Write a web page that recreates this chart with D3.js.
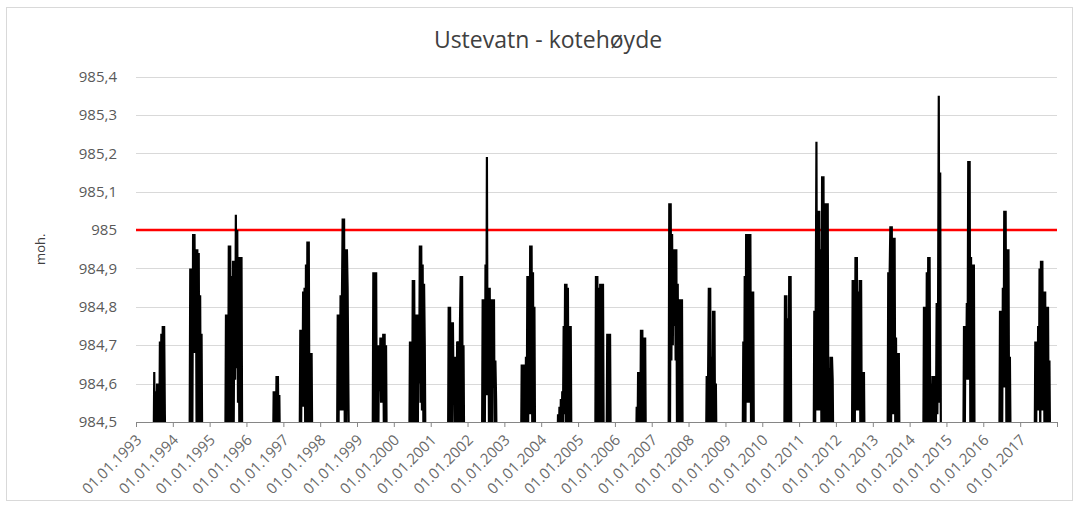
<!DOCTYPE html>
<html>
<head>
<meta charset="utf-8">
<script src="https://cdn.jsdelivr.net/npm/d3@7"></script>
<style>
  body { margin: 0; background: #fff; }
  text { font-family: "Open Sans", sans-serif; }
</style>
</head>
<body>
<svg id="chart" width="1079" height="508"></svg>
<script>
// axis range and tick values
const axisStart = "1993-01-01"
const axisEnd = "2018-01-01"
const levelTicks = [984.5, 984.6, 984.7, 984.8, 984.9, 985.0, 985.1, 985.2, 985.3, 985.4]
const thresholdLevel = 985
const stepDays = 7

// first date of each summer season (weekly readings after it)
const seasonStarts = [
    "1993-06-24", "1994-06-16", "1995-06-05", "1996-09-20", "1997-06-11",
    "1998-06-17", "1999-06-05", "2000-06-02", "2001-06-21", "2002-05-24",
    "2003-06-15", "2004-06-09", "2005-06-20", "2006-07-29", "2007-06-17",
    "2008-06-22", "2009-06-20", "2010-08-07", "2011-05-25", "2012-06-08",
    "2013-05-27", "2014-05-16", "2015-06-17", "2016-06-08", "2017-05-24"
]

// water level (moh.)
const seasonLevels = [
    [984.40, 984.63, 984.42, 984.58, 984.43, 984.60, 984.44, 984.60, 984.42, 984.71, 984.45, 984.73, 984.44, 984.75, 984.43, 984.75, 984.52, 984.40],
    [984.40, 984.90, 984.42, 984.90, 984.50, 984.99, 984.68, 984.99, 984.68, 984.95, 984.45, 984.95, 984.43, 984.94, 984.44, 984.83, 984.42, 984.73, 984.40],
    [984.40, 984.78, 984.42, 984.78, 984.45, 984.96, 984.48, 984.96, 984.44, 984.88, 984.42, 984.92, 984.50, 984.92, 984.61, 985.04, 984.64, 985.00, 984.55, 984.93, 984.44, 984.93, 984.42, 984.93, 984.40],
    [984.40, 984.58, 984.42, 984.58, 984.45, 984.62, 984.43, 984.62, 984.45, 984.57, 984.40],
    [984.40, 984.74, 984.42, 984.74, 984.54, 984.84, 984.54, 984.85, 984.45, 984.91, 984.43, 984.97, 984.44, 984.97, 984.42, 984.68, 984.42, 984.68, 984.40],
    [984.40, 984.78, 984.42, 984.78, 984.53, 984.83, 984.53, 984.83, 985.03, 984.53, 985.03, 984.45, 984.95, 984.42, 984.95, 984.85, 984.60, 984.40],
    [984.40, 984.89, 984.42, 984.89, 984.45, 984.89, 984.43, 984.70, 984.44, 984.70, 984.58, 984.72, 984.55, 984.72, 984.55, 984.73, 984.45, 984.73, 984.42, 984.70, 984.40],
    [984.40, 984.71, 984.42, 984.71, 984.45, 984.87, 984.43, 984.87, 984.50, 984.78, 984.45, 984.78, 984.42, 984.78, 984.60, 984.96, 984.55, 984.96, 984.53, 984.91, 984.50, 984.86, 984.70, 984.40],
    [984.40, 984.80, 984.42, 984.80, 984.45, 984.76, 984.43, 984.76, 984.55, 984.67, 984.42, 984.67, 984.45, 984.71, 984.50, 984.71, 984.45, 984.76, 984.88, 984.42, 984.88, 984.45, 984.70, 984.40],
    [984.40, 984.82, 984.42, 984.82, 984.45, 984.91, 984.57, 985.19, 984.57, 984.85, 984.45, 984.85, 984.42, 984.82, 984.45, 984.82, 984.59, 984.82, 984.42, 984.66, 984.56, 984.40],
    [984.40, 984.65, 984.42, 984.65, 984.45, 984.65, 984.43, 984.67, 984.45, 984.88, 984.43, 984.88, 984.52, 984.96, 984.52, 984.96, 984.45, 984.89, 984.42, 984.80, 984.40],
    [984.40, 984.52, 984.42, 984.54, 984.45, 984.56, 984.47, 984.58, 984.50, 984.75, 984.52, 984.86, 984.45, 984.86, 984.42, 984.85, 984.44, 984.75, 984.42, 984.75, 984.40],
    [984.40, 984.88, 984.42, 984.88, 984.45, 984.85, 984.43, 984.86, 984.45, 984.86, 984.42, 984.86, 984.43, 984.40, 984.40, 984.40, 984.40, 984.73, 984.42, 984.73, 984.43, 984.73, 984.40],
    [984.40, 984.54, 984.42, 984.63, 984.45, 984.63, 984.43, 984.74, 984.44, 984.74, 984.42, 984.72, 984.43, 984.72, 984.40],
    [984.40, 985.07, 984.45, 985.07, 984.66, 984.99, 984.70, 984.95, 984.75, 984.95, 984.66, 984.95, 984.45, 984.86, 984.43, 984.82, 984.42, 984.82, 984.44, 984.82, 984.40],
    [984.40, 984.62, 984.42, 984.62, 984.85, 984.44, 984.85, 984.43, 984.67, 984.42, 984.79, 984.44, 984.79, 984.42, 984.60, 984.40],
    [984.40, 984.71, 984.42, 984.88, 984.45, 984.99, 984.55, 984.99, 984.55, 984.99, 984.55, 984.99, 984.45, 984.84, 984.42, 984.84, 984.42, 984.40],
    [984.40, 984.83, 984.42, 984.83, 984.44, 984.77, 984.42, 984.88, 984.43, 984.88, 984.40],
    [984.40, 984.79, 984.42, 984.79, 985.23, 984.53, 985.05, 984.53, 985.05, 984.53, 984.95, 984.50, 985.14, 984.45, 985.14, 984.44, 985.07, 984.45, 985.07, 984.43, 985.07, 984.42, 984.64, 984.44, 984.67, 984.42, 984.67, 984.61, 984.40],
    [984.40, 984.87, 984.42, 984.87, 984.45, 984.93, 984.53, 984.93, 984.53, 984.84, 984.53, 984.87, 984.45, 984.87, 984.42, 984.63, 984.43, 984.63, 984.40],
    [984.40, 984.89, 984.42, 984.89, 985.01, 984.45, 985.01, 984.52, 984.98, 984.52, 984.98, 984.45, 984.72, 984.43, 984.68, 984.42, 984.68, 984.40],
    [984.40, 984.80, 984.42, 984.80, 984.45, 984.89, 984.43, 984.93, 984.44, 984.93, 984.42, 984.60, 984.45, 984.62, 984.50, 984.62, 984.48, 984.62, 984.50, 984.81, 984.52, 984.81, 985.35, 984.55, 985.15, 984.40],
    [984.40, 984.75, 984.42, 984.75, 984.61, 984.81, 984.61, 985.18, 984.61, 985.18, 984.45, 984.93, 984.43, 984.91, 984.42, 984.91, 984.40],
    [984.40, 984.79, 984.42, 984.79, 984.45, 984.85, 984.59, 985.05, 984.59, 985.05, 984.50, 984.95, 984.45, 984.95, 984.42, 984.67, 984.43, 984.40],
    [984.40, 984.71, 984.42, 984.71, 984.53, 984.75, 984.53, 984.90, 984.45, 984.92, 984.53, 984.92, 984.53, 984.84, 984.45, 984.84, 984.43, 984.80, 984.42, 984.80, 984.44, 984.66, 984.40]
]

const W = 1079, H = 508
const plot = {left: 136, right: 1057, top: 76.5, bottom: 422}

const parseDate = d3.utcParse("%Y-%m-%d")
const fmtDate = d3.utcFormat("%d.%m.%Y")
const nbLocale = d3.formatLocale({decimal: ",", thousands: " ", grouping: [3], currency: ["", " kr"]})
const fmtLevel = nbLocale.format(".1~f")

const svg = d3.select("#chart")

// chart frame
svg.append("rect")
    .attr("x", 6.5).attr("y", 7.5)
    .attr("width", W - 13).attr("height", H - 15)
    .attr("fill", "#fff")
    .attr("stroke", "#d9d9d9")

const x = d3.scaleUtc()
    .domain([parseDate(axisStart), parseDate(axisEnd)])
    .range([plot.left, plot.right])

const y = d3.scaleLinear()
    .domain([levelTicks[0], levelTicks[levelTicks.length - 1]])
    .range([plot.bottom, plot.top])

// gridlines
svg.append("g")
    .selectAll("line")
    .data(levelTicks.slice(1))
    .join("line")
    .attr("x1", plot.left).attr("x2", plot.right)
    .attr("y1", d => Math.round(y(d)) + 0.5).attr("y2", d => Math.round(y(d)) + 0.5)
    .attr("stroke", "#d9d9d9")

// y tick labels
svg.append("g")
    .selectAll("text")
    .data(levelTicks)
    .join("text")
    .attr("x", plot.left - 19)
    .attr("y", d => y(d))
    .attr("dy", "0.35em")
    .attr("text-anchor", "end")
    .attr("font-size", 15)
    .attr("fill", "#595959")
    .text(d => fmtLevel(d))

// x axis
const yearTicks = d3.utcYear.range(parseDate(axisStart), d3.utcDay.offset(parseDate(axisEnd), 1))
const xAxis = svg.append("g")
    .attr("transform", "translate(0," + plot.bottom + ")")
    .call(d3.axisBottom(x)
        .tickValues(yearTicks)
        .tickSize(5)
        .tickSizeOuter(0)
        .tickFormat((d, i) => i < yearTicks.length - 1 ? fmtDate(d) : ""))
xAxis.select(".domain").attr("stroke", "#868686")
xAxis.selectAll(".tick line").attr("stroke", "#868686")
xAxis.selectAll(".tick text")
    .attr("font-family", "Open Sans, sans-serif")
    .attr("font-size", 15)
    .attr("fill", "#6a6a6a")
    .attr("text-anchor", "end")
    .attr("dy", null)
    .attr("y", null)
    .attr("transform", "translate(6,19) rotate(-45)")

// threshold line
svg.append("line")
    .attr("x1", plot.left).attr("x2", plot.right)
    .attr("y1", y(thresholdLevel)).attr("y2", y(thresholdLevel))
    .attr("stroke", "#ff0000")
    .attr("stroke-width", 2.5)

// water level series
svg.append("clipPath").attr("id", "plot-clip")
    .append("rect")
    .attr("x", plot.left).attr("y", 0)
    .attr("width", plot.right - plot.left).attr("height", plot.bottom)

const seasons = seasonStarts.map((s, i) => seasonLevels[i].map((v, j) => ({
    date: d3.utcDay.offset(parseDate(s), j * stepDays),
    value: v
})))

const line = d3.line()
    .x(d => x(d.date))
    .y(d => y(d.value))

svg.append("g")
    .attr("clip-path", "url(#plot-clip)")
    .selectAll("path")
    .data(seasons)
    .join("path")
    .attr("d", line)
    .attr("fill", "none")
    .attr("stroke", "#000")
    .attr("stroke-width", 2.2)
    .attr("stroke-linejoin", "miter")

// title
svg.append("text")
    .attr("x", 548).attr("y", 48)
    .attr("text-anchor", "middle")
    .attr("font-size", 23)
    .attr("fill", "#404040")
    .text("Ustevatn - kotehøyde")

// y axis title
svg.append("text")
    .attr("transform", "translate(45," + ((plot.top + plot.bottom) / 2) + ") rotate(-90)")
    .attr("text-anchor", "middle")
    .attr("font-size", 13)
    .attr("fill", "#404040")
    .text("moh.")
</script>
</body>
</html>
